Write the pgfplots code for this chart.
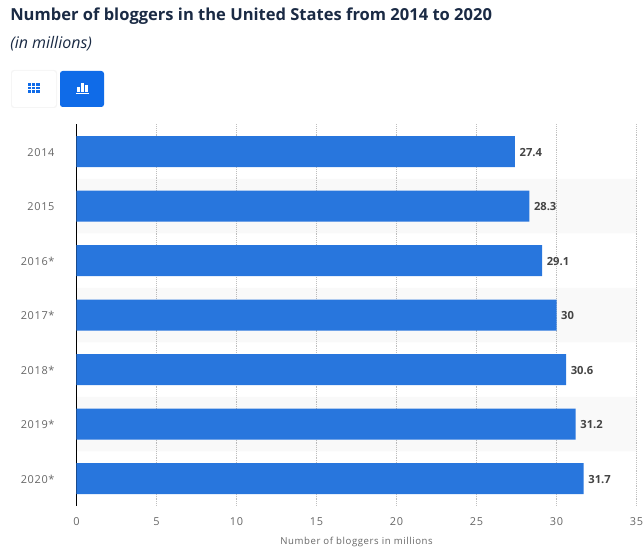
\documentclass[border=0pt]{standalone}
\usepackage{pgfplots}
\pgfplotsset{compat=1.18}
\usepackage{fontspec}
\setmainfont{Open Sans}
\newfontfamily\ticksf[LetterSpace=6]{Open Sans}
\definecolor{blogblue}{HTML}{2876DD}
\definecolor{btnblue}{HTML}{0F6BE8}
\definecolor{titlec}{HTML}{1A2A44}
\definecolor{tickc}{HTML}{666666}
\definecolor{valc}{HTML}{444444}
\begin{document}
\begin{tikzpicture}[x=0.75pt,y=0.75pt]
\path[use as bounding box] (0,0) rectangle (644,553);
% heading
\node[anchor=base west,inner sep=0pt,text=titlec,font=\fontsize{12.4pt}{14pt}\selectfont\bfseries] at (10,553-21) {Number of bloggers in the United States from 2014 to 2020};
\node[anchor=base west,inner sep=0pt,text=titlec,font=\fontsize{12pt}{14pt}\selectfont\itshape] at (10,553-49) {(in millions)};
% buttons
\fill[black!4,rounded corners=2pt] (11,553-108) rectangle (57,553-70);
\fill[white,rounded corners=2pt] (12,553-107) rectangle (56,553-71);
\fill[btnblue,rounded corners=2pt] (60,553-107) rectangle (104,553-71);
\fill[btnblue] (28,553-93) rectangle (40,553-83);
\foreach \xx in {31.7,35.7} \draw[white,line width=0.4pt] (\xx,553-93) -- (\xx,553-83);
\foreach \yy in {86.3,89.7} \draw[white,line width=0.4pt] (28,553-\yy) -- (40,553-\yy);
\fill[white] (77,553-92) rectangle (80,553-87);
\fill[white] (81,553-92) rectangle (84,553-83);
\fill[white] (85,553-92) rectangle (88,553-85);
\fill[white] (76,553-94.5) rectangle (88.5,553-93.2);
\begin{axis}[
  at={(57.375pt,35.4375pt)},anchor=south west,
  scale only axis,width=420pt,height=286.125pt,
  xmin=0,xmax=35,ymin=-0.5,ymax=6.5,y dir=reverse,
  axis x line=bottom,axis y line=left,
  x axis line style={draw=none,-},
  y axis line style={black,line width=1.1pt,-},
  xtick={0,5,...,35},
  ytick={0,...,6},
  yticklabels={2014,2015,2016*,2017*,2018*,2019*,2020*},
  major tick length=0pt,
  xmajorgrids,
  grid style={densely dotted,black!25,line width=0.6pt},
  /pgf/number format/assume math mode=true,
  tick label style={font=\fontsize{8.2pt}{10pt}\selectfont\ticksf,text=tickc},
  yticklabel style={anchor=east,xshift=-13pt,yshift=-0.6pt},
  xticklabel style={yshift=-5.4pt},
  xlabel={Number of bloggers in millions},
  xlabel style={font=\fontsize{7.2pt}{9pt}\selectfont\ticksf,text=tickc,anchor=center,at={(axis description cs:0.5,0)},yshift=-27.3pt},
  clip=false,
]
% alternating row bands
\addplot[xbar,bar width=40.875pt,bar shift=0pt,fill=black,fill opacity=0.025,draw=none,forget plot]
  coordinates {(35,1) (35,3) (35,5)};
% values
\addplot[xbar,bar width=23.25pt,bar shift=0pt,fill=blogblue,draw=none,
  nodes near coords,
  nodes near coords align={horizontal},
  every node near coord/.append style={font=\fontsize{8.4pt}{10pt}\selectfont\bfseries,text=valc,
    /pgf/number format/assume math mode=true,xshift=0pt,yshift=-0.4pt}]
  coordinates {(27.4,0) (28.3,1) (29.1,2) (30,3) (30.6,4) (31.2,5) (31.7,6)};
\end{axis}
\end{tikzpicture}
\end{document}
